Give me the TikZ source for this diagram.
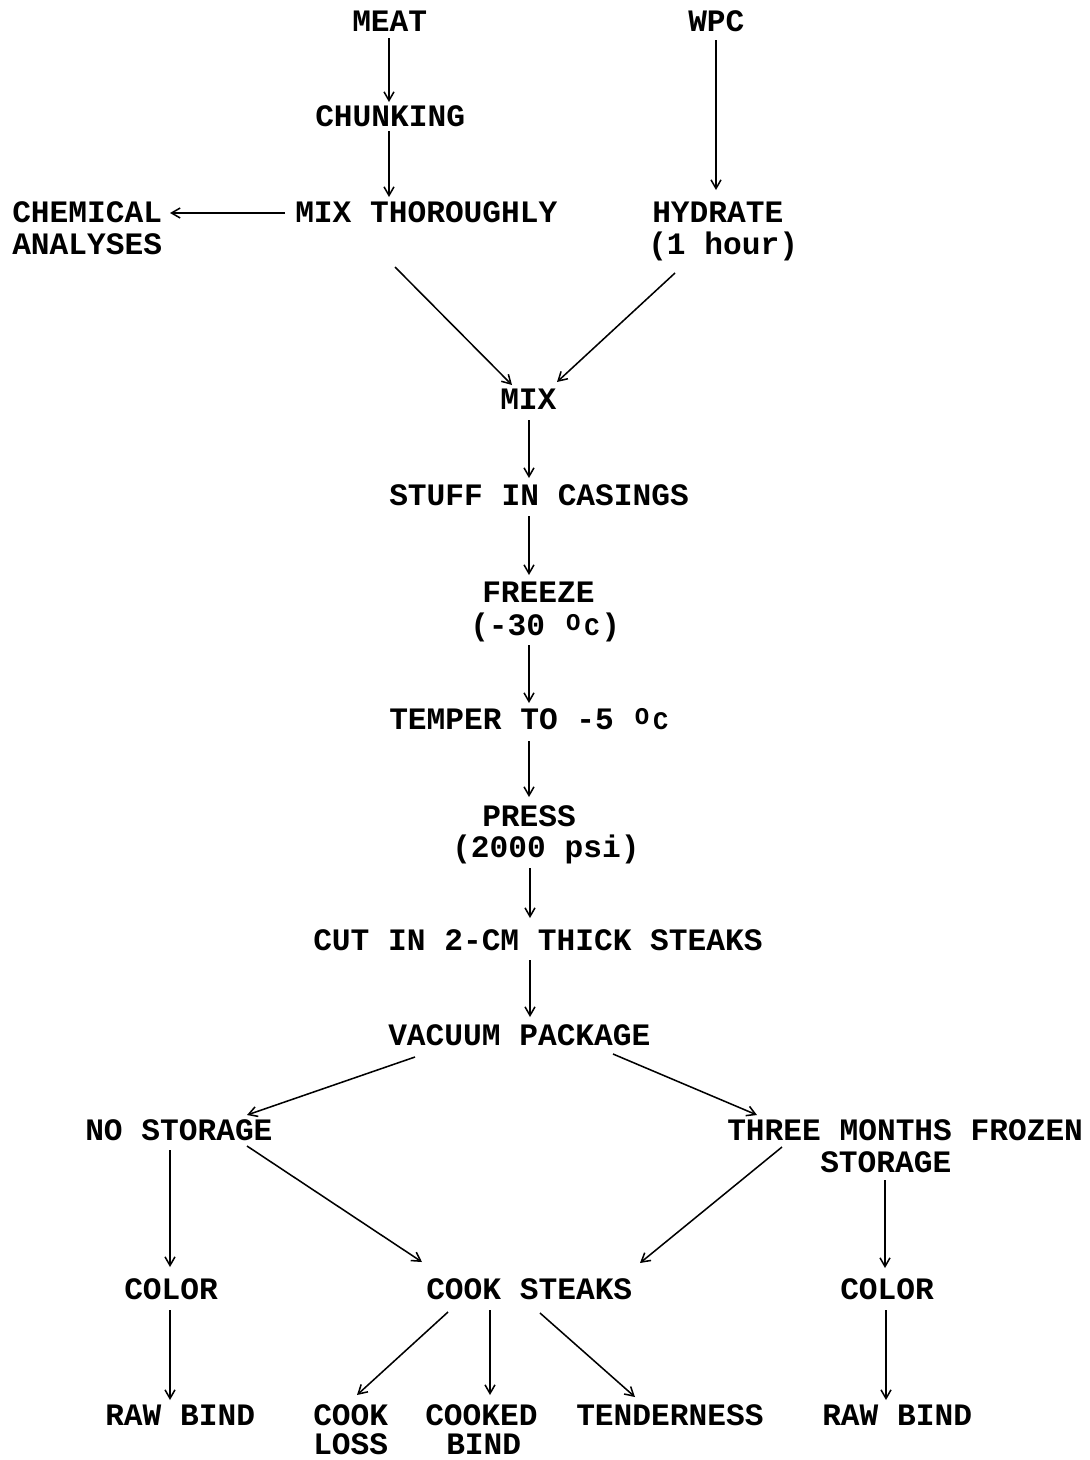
\documentclass[tikz,border=0pt]{standalone}
\usepackage{fontspec}
\setmonofont{Liberation Mono}
\usetikzlibrary{arrows.meta,calc}
\newcommand\degc{\makebox[14.04pt]{\raisebox{3.5pt}{\fontsize{18}{18}\selectfont O}}\makebox[14.04pt]{\fontsize{19}{19}\selectfont C}}
\begin{document}
\begin{tikzpicture}[x=0.75pt,y=-0.75pt,
  lbl/.style={font=\fontsize{23.4}{23.4}\selectfont\ttfamily\bfseries, inner sep=0pt, anchor=west, text height=14pt, text depth=0pt},
  arr/.style={-{Straight Barb[length=6.5pt,width=7.5pt]}, line width=1.15pt}]
\useasboundingbox (0,0) rectangle (1089,1460);
% nodes
\node[lbl] (meat) at (352,22) {MEAT};
\node[lbl] (wpc) at (688,22) {WPC};
\node[lbl] (chunk) at (315,117) {CHUNKING};
\node[lbl] (mixt) at (295,213) {MIX THOROUGHLY};
\node[lbl] (chem1) at (12,213) {CHEMICAL};
\node[lbl] (chem2) at (12,245) {ANALYSES};
\node[lbl] (hyd1) at (652,213) {HYDRATE};
\node[lbl] (hyd2) at (648,245) {(1 hour)};
\node[lbl] (mix) at (500,400) {MIX};
\node[lbl] (stuff) at (389,496) {STUFF IN CASINGS};
\node[lbl] (frz1) at (482,593) {FREEZE};
\node[lbl] (frz2) at (470,626) {(-30 \degc)};
\node[lbl] (temper) at (389,720) {TEMPER TO -5 \degc};
\node[lbl] (press1) at (482,817) {PRESS};
\node[lbl] (press2) at (452,848) {(2000 psi)};
\node[lbl] (cut) at (313,941) {CUT IN 2-CM THICK STEAKS};
\node[lbl] (vac) at (388,1036) {VACUUM PACKAGE};
\node[lbl] (nost) at (85,1131) {NO STORAGE};
\node[lbl] (three1) at (727,1131) {THREE MONTHS FROZEN};
\node[lbl] (three2) at (820,1163) {STORAGE};
\node[lbl] (colL) at (124,1290) {COLOR};
\node[lbl] (cook) at (426,1290) {COOK STEAKS};
\node[lbl] (colR) at (840,1290) {COLOR};
\node[lbl] (rawL) at (105,1416) {RAW BIND};
\node[lbl] (cl1) at (313,1416) {COOK};
\node[lbl] (cl2) at (313,1445) {LOSS};
\node[lbl] (cb1) at (425,1416) {COOKED};
\node[lbl] (cb2) at (446,1445) {BIND};
\node[lbl] (tend) at (576,1416) {TENDERNESS};
\node[lbl] (rawR) at (822,1416) {RAW BIND};
% connectors
\draw[arr] ($(meat.west)+(37,16)$) -- ($(chunk.west)+(74,-15)$);
\draw[arr] ($(chunk.west)+(74,14)$) -- ($(mixt.west)+(94,-16)$);
\draw[arr] ($(wpc.west)+(28,18)$) -- ($(hyd1.west)+(64,-23)$);
\draw[arr] ($(mixt.west)+(-10,0)$) -- ($(chem1.west)+(158,0)$);
\draw[arr] ($(mixt.west)+(100,54)$) -- ($(mix.west)+(12,-15)$);
\draw[arr] ($(hyd2.west)+(27,28)$) -- ($(mix.west)+(57,-18)$);
\draw[arr] ($(mix.west)+(29,20)$) -- ($(stuff.west)+(140,-18)$);
\draw[arr] ($(stuff.west)+(140,20)$) -- ($(frz1.west)+(47,-18)$);
\draw[arr] ($(frz2.west)+(59,19)$) -- ($(temper.west)+(140,-17)$);
\draw[arr] ($(temper.west)+(140,21)$) -- ($(press1.west)+(47,-20)$);
\draw[arr] ($(press2.west)+(78,20)$) -- ($(cut.west)+(217,-23)$);
\draw[arr] ($(cut.west)+(217,19)$) -- ($(vac.west)+(142,-19)$);
\draw[arr] ($(vac.west)+(27,21)$) -- ($(nost.west)+(162,-16)$);
\draw[arr] ($(vac.west)+(225,18)$) -- ($(three1.west)+(30,-16)$);
\draw[arr] ($(nost.west)+(162,15)$) -- ($(cook.west)+(-4,-28)$);
\draw[arr] ($(three1.west)+(55,16)$) -- ($(cook.west)+(214,-27)$);
\draw[arr] ($(nost.west)+(85,19)$) -- ($(colL.west)+(46,-23)$);
\draw[arr] ($(three2.west)+(65,17)$) -- ($(colR.west)+(45,-22)$);
\draw[arr] ($(colL.west)+(46,20)$) -- ($(rawL.west)+(65,-16)$);
\draw[arr] ($(colR.west)+(46,20)$) -- ($(rawR.west)+(64,-16)$);
\draw[arr] ($(cook.west)+(22,22)$) -- ($(cl1.west)+(44,-21)$);
\draw[arr] ($(cook.west)+(64,20)$) -- ($(cb1.west)+(65,-21)$);
\draw[arr] ($(cook.west)+(114,23)$) -- ($(tend.west)+(59,-19)$);
\end{tikzpicture}
\end{document}
